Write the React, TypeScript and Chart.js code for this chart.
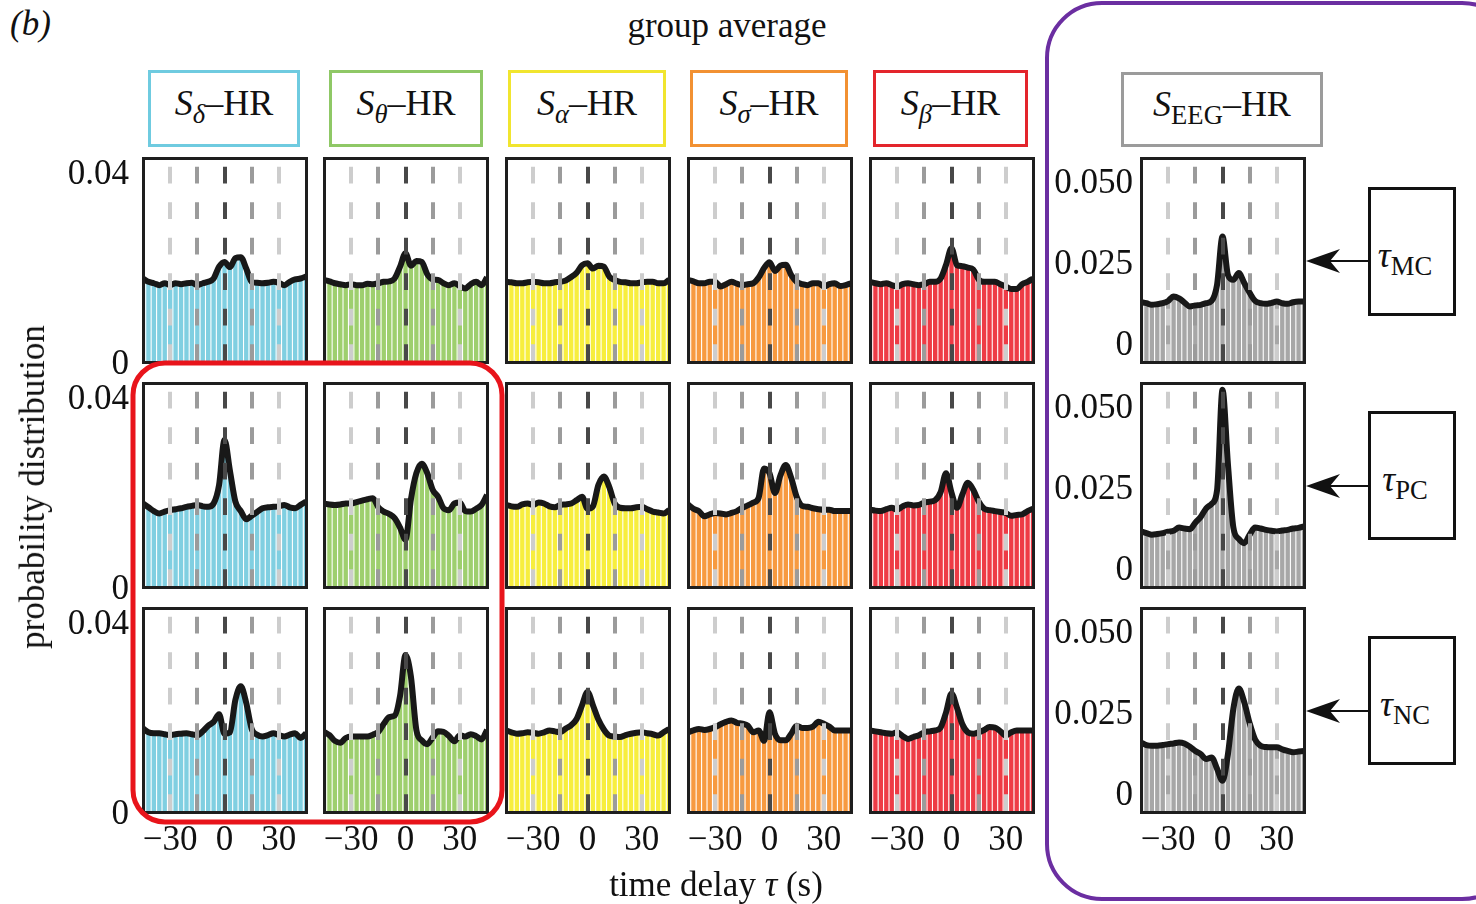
import React, { useEffect, useRef } from "react";
import { Chart, registerables } from "chart.js";

Chart.register(...registerables);

// ---------- data (probability values in units of 1e-3) ----------
const LAGS = [-45, -42, -39, -36, -33, -30, -27, -24, -21, -18, -15, -12, -9, -6, -3, 0, 3, 6, 9, 12, 15, 18, 21, 24, 27, 30, 33, 36, 39, 42, 45];

const DELTA_MC = [17.6, 16.9, 16.6, 16.2, 16.6, 16.2, 16.6, 16.4, 16.6, 16.7, 16.2, 16.6, 16.9, 17.6, 20.1, 21.1, 20.0, 21.9, 22.1, 19.7, 16.9, 16.7, 16.6, 16.7, 16.9, 16.7, 16.2, 16.9, 17.4, 17.6, 18.0];
const THETA_MC = [17.3, 17.0, 16.6, 16.4, 16.2, 16.4, 16.2, 16.2, 16.5, 16.4, 16.6, 16.9, 17.0, 17.6, 20.1, 22.9, 20.3, 21.3, 21.1, 18.5, 17.4, 17.3, 16.6, 16.2, 16.6, 16.0, 15.5, 16.4, 16.9, 16.2, 17.8];
const ALPHA_MC = [16.9, 16.8, 16.6, 16.6, 16.8, 16.9, 16.8, 16.6, 16.6, 16.8, 16.9, 17.2, 17.9, 18.8, 20.4, 20.8, 19.7, 20.3, 20.1, 18.0, 17.3, 16.9, 16.8, 16.6, 16.6, 16.8, 16.9, 16.9, 16.6, 16.6, 17.3];
const SIGMA_MC = [17.3, 17.0, 16.6, 16.6, 16.9, 16.9, 15.9, 16.4, 16.9, 16.5, 16.2, 16.4, 16.6, 17.8, 19.8, 21.0, 19.2, 20.3, 20.5, 18.3, 16.9, 16.4, 16.2, 16.6, 16.6, 15.9, 16.4, 16.6, 16.0, 16.2, 16.6];
const BETA_MC = [16.9, 16.6, 16.4, 16.6, 16.2, 15.9, 16.4, 16.6, 16.4, 16.2, 16.4, 16.9, 16.9, 17.6, 20.5, 24.0, 20.4, 20.2, 19.9, 19.5, 17.4, 16.9, 16.9, 16.9, 16.4, 15.9, 15.4, 15.4, 16.4, 16.9, 17.6];
const EEG_MC = [12.6, 12.3, 11.8, 12.0, 12.3, 13.0, 14.4, 13.8, 12.5, 11.3, 11.6, 11.8, 12.3, 13.0, 18.0, 32.8, 21.0, 19.5, 21.6, 18.5, 15.5, 13.0, 12.3, 12.1, 12.4, 12.8, 12.3, 12.1, 12.6, 12.8, 12.8];

const DELTA_PC = [17.6, 16.8, 16.0, 15.5, 15.9, 16.2, 16.4, 16.6, 16.9, 17.1, 17.3, 17.0, 16.9, 17.6, 21.5, 31.0, 24.5, 18.0, 16.0, 14.3, 15.0, 15.8, 16.6, 16.8, 16.9, 17.0, 17.3, 16.8, 16.6, 17.3, 18.0];
const THETA_PC = [17.6, 17.4, 17.3, 17.4, 17.6, 17.6, 17.9, 18.2, 18.5, 18.7, 16.8, 15.9, 15.4, 14.5, 12.5, 10.0, 18.5, 24.0, 26.0, 24.0, 20.5, 19.0, 16.6, 16.2, 17.6, 17.8, 16.0, 15.9, 16.5, 17.3, 19.4];
const ALPHA_PC = [17.3, 17.0, 16.9, 17.4, 17.6, 17.3, 17.8, 17.6, 17.0, 16.8, 17.3, 17.4, 17.6, 18.3, 19.0, 16.5, 17.0, 21.5, 23.3, 21.1, 17.6, 16.7, 16.6, 16.6, 16.8, 16.9, 16.4, 15.9, 15.7, 15.5, 16.2];
const SIGMA_PC = [17.4, 16.5, 16.0, 14.9, 15.3, 15.6, 15.5, 15.3, 15.6, 16.0, 16.7, 17.2, 17.8, 18.8, 25.0, 24.0, 19.8, 23.5, 25.7, 23.0, 19.0, 17.1, 16.9, 16.6, 16.4, 16.3, 16.3, 16.0, 16.0, 16.0, 16.0];
const BETA_PC = [16.3, 16.1, 16.0, 16.4, 16.7, 16.3, 17.0, 17.4, 17.2, 17.3, 17.8, 18.0, 18.3, 20.0, 24.0, 19.9, 16.7, 19.5, 22.0, 20.5, 18.0, 16.5, 16.2, 16.0, 15.8, 15.6, 15.0, 15.2, 15.3, 16.0, 16.5];
const EEG_PC = [11.3, 10.8, 10.3, 10.5, 10.8, 11.2, 11.5, 12.5, 12.2, 12.0, 14.0, 15.8, 18.4, 19.8, 24.0, 54.9, 32.0, 12.5, 9.0, 7.7, 10.3, 12.5, 12.2, 11.8, 11.5, 11.3, 11.6, 11.8, 12.2, 12.4, 12.9];

const DELTA_NC = [17.6, 16.8, 16.6, 16.6, 16.4, 16.2, 16.4, 16.5, 16.6, 16.4, 16.2, 17.0, 18.2, 19.0, 20.6, 16.5, 16.8, 23.6, 26.5, 23.0, 17.5, 16.3, 15.9, 16.2, 16.6, 16.2, 15.9, 16.3, 16.6, 15.6, 16.6];
const THETA_NC = [16.9, 16.2, 15.0, 14.6, 15.6, 15.9, 15.9, 15.9, 15.9, 16.3, 16.9, 18.6, 20.0, 20.3, 24.5, 33.1, 28.5, 17.3, 15.1, 14.3, 15.7, 17.0, 16.9, 16.0, 14.9, 16.2, 15.9, 16.4, 16.0, 15.3, 17.3];
const ALPHA_NC = [17.2, 16.8, 16.5, 16.6, 16.8, 16.7, 16.5, 16.8, 17.2, 17.0, 16.8, 17.6, 18.3, 19.6, 22.5, 25.3, 22.5, 19.5, 17.4, 16.1, 15.9, 15.8, 16.2, 16.5, 16.7, 16.8, 16.6, 16.4, 16.1, 16.8, 17.5];
const SIGMA_NC = [16.8, 17.2, 17.5, 17.3, 17.5, 17.9, 18.5, 19.0, 19.3, 18.8, 18.6, 18.2, 16.8, 17.2, 15.0, 21.0, 16.5, 15.1, 15.1, 16.5, 18.2, 17.7, 17.7, 18.0, 19.0, 18.6, 18.0, 17.2, 17.2, 17.2, 17.2];
const BETA_NC = [17.2, 17.0, 16.8, 16.6, 16.5, 16.8, 16.0, 15.4, 15.8, 16.2, 16.8, 17.0, 17.2, 17.8, 21.0, 25.0, 22.0, 18.5, 16.8, 16.5, 16.8, 17.3, 17.9, 17.8, 17.0, 16.1, 16.8, 17.2, 17.2, 17.2, 17.2];
const EEG_NC = [15.6, 14.8, 14.6, 14.6, 14.8, 15.1, 15.3, 15.6, 15.3, 14.3, 13.0, 12.0, 10.5, 11.0, 7.5, 3.8, 12.0, 26.0, 32.2, 28.0, 21.5, 16.5, 14.6, 14.2, 14.1, 14.1, 13.5, 13.0, 12.6, 12.8, 13.0];

const UNIT = 1000; // values above are in 1e-3

const X_GRID = [-30, -15, 0, 15, 30];
const X_LABELS = ["\u221230", "", "0", "", "30"];
const BAND_Y_TICKS = [0, 0.04];
const BAND_Y_LABELS = ["0", "0.04"];
const EEG_Y_TICKS = [0, 0.025, 0.05];
const EEG_Y_LABELS = ["0", "0.025", "0.050"];
const BAND_RANGE = [0, 0.043];
const EEG_RANGE = [-0.0058, 0.057];

const BAND_NAMES = ["\u03b4", "\u03b8", "\u03b1", "\u03c3", "\u03b2", "EEG"];
const ROW_NAMES = ["MC", "PC", "NC"];
const SERIES = [
  [DELTA_MC, THETA_MC, ALPHA_MC, SIGMA_MC, BETA_MC, EEG_MC],
  [DELTA_PC, THETA_PC, ALPHA_PC, SIGMA_PC, BETA_PC, EEG_PC],
  [DELTA_NC, THETA_NC, ALPHA_NC, SIGMA_NC, BETA_NC, EEG_NC],
];

// ---------- styles / layout ----------
const FILL_COLORS = ["#80cfe1", "#9ecf6e", "#f7ee3e", "#f79a40", "#ee3b45", "#a7a7a7"];
const HEADER_COLORS = ["#6fcbe0", "#8fc866", "#f1e52f", "#f29132", "#e3252c", "#9b9b9b"];
const GRID_COLORS = ["#cdcdcd", "#9b9b9b", "#484848", "#9b9b9b", "#cdcdcd"];
const COL_LEFT = [143, 324, 506, 688, 870, 1141];
const ROW_TOP = [158, 383, 608];
const PW = 163;
const PH = 204;
const HEADER_BOX = [
  { left: 148, top: 70, width: 152, height: 77 },
  { left: 329, top: 70, width: 154, height: 77 },
  { left: 508, top: 70, width: 158, height: 77 },
  { left: 690, top: 70, width: 158, height: 77 },
  { left: 873, top: 70, width: 155, height: 77 },
  { left: 1121, top: 72, width: 202, height: 75 },
];
const TAU_BOX_TOP = [187, 411, 636];
const ARROW_Y = [261, 486, 711];
const FONT = "'Liberation Serif', 'DejaVu Serif', serif";

type PanelProps = {
  left: number;
  top: number;
  showY: boolean;
  showX: boolean;
  eeg: boolean;
  color: string;
  values: number[];
};

function Panel({ left, top, showY, showX, eeg, color, values }: PanelProps) {
  const ref = useRef<HTMLCanvasElement>(null);
  const padL = showY ? 120 : 40;
  const padB = showX ? 64 : 50;
  const padT = 50;
  const padR = 40;
  const w = PW + padL + padR;
  const h = PH + padT + padB;

  useEffect(() => {
    const pts = LAGS.map((x, i) => ({ x, y: values[i] / UNIT }));
    const range = eeg ? EEG_RANGE : BAND_RANGE;
    const yTicks = eeg ? EEG_Y_TICKS : BAND_Y_TICKS;
    const yLabels = eeg ? EEG_Y_LABELS : BAND_Y_LABELS;
    const borderOpts = { display: true, color: "#1e1e1e", width: 3, z: 1 };
    const chart = new Chart(ref.current as HTMLCanvasElement, {
      type: "bar",
      data: {
        datasets: [
          {
            type: "line",
            data: pts,
            xAxisID: "x",
            yAxisID: "y",
            borderColor: "#181818",
            borderWidth: 6,
            pointRadius: 0,
            fill: false,
            cubicInterpolationMode: "monotone",
            borderJoinStyle: "round",
            clip: 0,
            order: 0,
          } as any,
          {
            type: "bar",
            data: pts,
            xAxisID: "x",
            yAxisID: "y",
            backgroundColor: color,
            borderWidth: 0,
            barPercentage: 0.8,
            categoryPercentage: 1,
            base: range[0],
            clip: 0,
            order: 1,
          } as any,
        ],
      },
      options: {
        animation: false,
        responsive: false,
        events: [],
        layout: { padding: { top: padT, right: padR, left: 0, bottom: 0 } },
        plugins: { legend: { display: false }, tooltip: { enabled: false } },
        scales: {
          x: {
            type: "linear",
            position: "bottom",
            offset: false,
            min: -45,
            max: 45,
            afterBuildTicks: (s: any) => {
              s.ticks = X_GRID.map((v) => ({ value: v }));
            },
            afterFit: (s: any) => {
              s.height = padB;
            },
            ticks: {
              display: showX,
              autoSkip: false,
              maxRotation: 0,
              padding: 8,
              color: "#111",
              font: { family: FONT, size: 35 },
              callback: (_v: any, i: number) => X_LABELS[i],
            },
            grid: {
              display: true,
              offset: false,
              drawTicks: false,
              lineWidth: 4,
              color: (ctx: any) => GRID_COLORS[ctx.index] || "#999",
              z: 1,
            },
            border: { ...borderOpts, dash: [16.7, 18.8], dashOffset: 26.8 },
          },
          y: {
            type: "linear",
            position: "left",
            min: range[0],
            max: range[1],
            afterBuildTicks: (s: any) => {
              s.ticks = yTicks.map((v) => ({ value: v }));
            },
            afterFit: (s: any) => {
              s.width = padL;
            },
            ticks: {
              display: showY,
              padding: eeg ? 8 : 14,
              labelOffset: 3,
              color: "#111",
              font: { family: FONT, size: 35 },
              callback: (_v: any, i: number) => yLabels[i],
            },
            grid: { display: false, drawTicks: false },
            border: borderOpts,
          },
          xTop: {
            type: "linear",
            position: "top",
            display: true,
            offset: false,
            afterFit: (s: any) => {
              s.height = 0;
            },
            ticks: { display: false },
            grid: { display: false, drawTicks: false },
            border: borderOpts,
          },
          yRight: {
            type: "linear",
            position: "right",
            display: true,
            afterFit: (s: any) => {
              s.width = 0;
            },
            ticks: { display: false },
            grid: { display: false, drawTicks: false },
            border: borderOpts,
          },
        },
      } as any,
    });
    return () => chart.destroy();
  }, []);

  return (
    <canvas
      ref={ref}
      width={w}
      height={h}
      style={{ position: "absolute", left: left - padL, top: top - padT, width: w, height: h }}
    />
  );
}

const sub = (t: string, italic: boolean) => (
  <span style={{ fontSize: "0.74em", fontStyle: italic ? "italic" : "normal", position: "relative", top: "0.33em" }}>{t}</span>
);

export default function App() {
  const panels: JSX.Element[] = [];
  ROW_TOP.forEach((top, r) => {
    COL_LEFT.forEach((left, c) => {
      panels.push(
        <Panel
          key={`${r}-${c}`}
          left={left}
          top={top}
          showY={c === 0 || c === 5}
          showX={r === 2}
          eeg={c === 5}
          color={FILL_COLORS[c]}
          values={SERIES[r][c]}
        />
      );
    });
  });

  return (
    <div
      style={{
        position: "absolute",
        left: 0,
        top: 0,
        width: 1476,
        height: 904,
        overflow: "hidden",
        background: "#fff",
        fontFamily: FONT,
        color: "#111",
      }}
    >
      <div style={{ position: "absolute", left: 10, top: 4, fontSize: 35, fontStyle: "italic" }}>
        (<span>b</span>)
      </div>
      <div style={{ position: "absolute", left: 727, top: 6, transform: "translateX(-50%)", fontSize: 35, whiteSpace: "nowrap" }}>
        group average
      </div>

      {HEADER_BOX.map((b, i) => (
        <div
          key={i}
          style={{
            position: "absolute",
            left: b.left,
            top: b.top,
            width: b.width,
            height: b.height,
            boxSizing: "border-box",
            border: `3px solid ${HEADER_COLORS[i]}`,
            display: "flex",
            alignItems: "center",
            justifyContent: "center",
            fontSize: 36,
            lineHeight: 1,
            paddingBottom: 12,
            whiteSpace: "nowrap",
          }}
        >
          <span>
            <i>S</i>
            {sub(BAND_NAMES[i], i < 5)}
            {"\u2013HR"}
          </span>
        </div>
      ))}

      {panels}

      {TAU_BOX_TOP.map((t, i) => (
        <div
          key={i}
          style={{
            position: "absolute",
            left: 1368,
            top: t,
            width: 88,
            height: 129,
            boxSizing: "border-box",
            border: "3px solid #111",
            display: "flex",
            alignItems: "center",
            justifyContent: "center",
            fontSize: 36,
            lineHeight: 1,
            paddingTop: 6,
            paddingRight: 14,
            whiteSpace: "nowrap",
          }}
        >
          <span>
            <i>{"\u03c4"}</i>
            {sub(ROW_NAMES[i], false)}
          </span>
        </div>
      ))}

      <div
        style={{
          position: "absolute",
          left: 33,
          top: 487,
          transform: "translate(-50%, -50%) rotate(-90deg)",
          fontSize: 35,
          whiteSpace: "nowrap",
        }}
      >
        probability distribution
      </div>
      <div
        style={{
          position: "absolute",
          left: 716,
          top: 865,
          transform: "translateX(-50%)",
          fontSize: 35,
          whiteSpace: "nowrap",
        }}
      >
        time delay <i>{"\u03c4"}</i> (s)
      </div>

      <svg width={1476} height={904} style={{ position: "absolute", left: 0, top: 0, pointerEvents: "none" }}>
        <rect x={133} y={363} width={369} height={459} rx={32} ry={32} fill="none" stroke="#e8141b" strokeWidth={5} />
        <rect x={1047} y={3} width={470} height={896} rx={55} ry={55} fill="none" stroke="#6b2ea1" strokeWidth={4} />
        {ARROW_Y.map((y, i) => (
          <g key={i}>
            <line x1={1330} y1={y} x2={1368} y2={y} stroke="#111" strokeWidth={2} />
            <polygon points={`1306,${y} 1340,${y - 12} 1330,${y} 1340,${y + 12}`} fill="#111" />
          </g>
        ))}
      </svg>
    </div>
  );
}
